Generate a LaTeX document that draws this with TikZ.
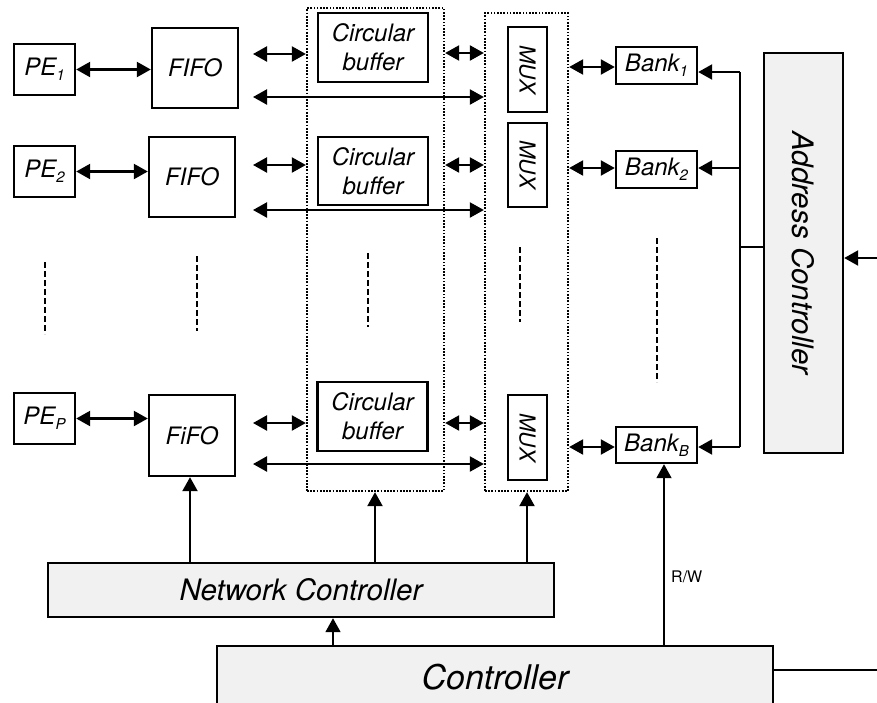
\documentclass[tikz,border=0pt]{standalone}
\usepackage{fontspec}
\setmainfont{TeX Gyre Heros}
\usetikzlibrary{arrows.meta,calc}
\definecolor{boxgray}{HTML}{F1F1F1}
\newcommand{\sbs}[1]{\raisebox{-5pt}{\fontsize{15}{15}\selectfont #1}}
\begin{document}
\begin{tikzpicture}[x=1pt,y=-1pt,
  box/.style={draw,line width=2.4pt,inner sep=0pt,align=center,font=\itshape\fontsize{24}{29}\selectfont},
  gbox/.style={box,fill=boxgray},
  lbl/.style={inner sep=0pt,font=\itshape\fontsize{23}{25}\selectfont},
  dotbox/.style={draw,line width=2.3pt,dash pattern=on 1.7pt off 1.5pt,inner sep=0pt},
  ell/.style={line width=2.2pt,dash pattern=on 6pt off 3pt},
  tip/.tip={Triangle[length=14pt,width=15pt]},
  arr/.style={line width=2.3pt,-tip},
  darr/.style={line width=2.3pt,tip-tip},
  bus/.style={line width=2pt}
]
\useasboundingbox (0,0) rectangle (877,702);

% PE boxes
\node[box,minimum width=61pt,minimum height=51pt] (pe1) at (44.5,69.5) {PE\sbs{1}};
\node[box,minimum width=61pt,minimum height=51pt] (pe2) at (44.5,171.5) {PE\sbs{2}};
\node[box,minimum width=61pt,minimum height=51pt] (pep) at (44.5,418.5) {PE\sbs{P}};

% FIFO boxes
\node[box,minimum width=86pt,minimum height=80pt] (fifo1) at (195,68) {FIFO};
\node[box,minimum width=86pt,minimum height=80pt] (fifo2) at (192,177) {FIFO};
\node[box,minimum width=86pt,minimum height=81pt] (fifo3) at (192,435.5) {FiFO};

% dotted groups
\node[dotbox,minimum width=137pt,minimum height=483pt] (dot1) at (375.5,249.5) {};
\node[dotbox,minimum width=83pt,minimum height=478pt] (dot2) at (526.5,252) {};

% circular buffers
\node[box,minimum width=110pt,minimum height=69pt] (cb1) at (373,47.5) {Circular\\buffer};
\node[box,minimum width=110pt,minimum height=68pt] (cb2) at (373,171) {Circular\\buffer};
\node[box,minimum width=110pt,minimum height=69pt] (cb3) at (372.5,416.5) {Circular\\buffer};

% MUX boxes
\node[box,minimum width=39pt,minimum height=85pt] (mux1) at (527.5,69.5) {};
\node[box,minimum width=39pt,minimum height=84pt] (mux2) at (527.5,165) {};
\node[box,minimum width=39pt,minimum height=85pt] (mux3) at (527.5,437.5) {};
\foreach \m in {mux1,mux2,mux3}
  \node[lbl,rotate=-90,font=\itshape\fontsize{22}{24}\selectfont] at (\m.center) {MUX};

% Banks
\node[box,minimum width=81pt,minimum height=37pt] (bank1) at (656.5,65.5) {Bank\sbs{1}};
\node[box,minimum width=81pt,minimum height=37pt] (bank2) at (656.5,169.5) {Bank\sbs{2}};
\node[box,minimum width=81pt,minimum height=36pt] (bankb) at (656.5,445) {Bank\sbs{B}};

% Address controller
\node[gbox,minimum width=79pt,minimum height=400pt] (addr) at (803.5,253) {};
\node[lbl,rotate=-90,font=\itshape\fontsize{29.5}{31}\selectfont] at (addr.center) {Address Controller};

% Network controller and controller
\node[gbox,minimum width=506pt,minimum height=54pt,font=\itshape\fontsize{29.5}{31}\selectfont] (nc) at (301,590) {Network Controller};
\node[gbox,minimum width=556pt,minimum height=62pt,font=\itshape\fontsize{34}{36}\selectfont] (ctrl) at (495,677) {Controller};

% ellipsis dashes
\draw[ell] (45,262) -- (45,334);
\draw[ell] (197,256) -- (197,331);
\draw[ell] (368,253) -- (368,327);
\draw[ell] (520,247) -- (520,322);
\draw[ell] (657,238) -- (657,382);

% PE <-> FIFO
\draw[darr] (pe1.east) -- (pe1.east -| fifo1.west);
\draw[darr] (pe2.east) -- (pe2.east -| fifo2.west);
\draw[darr] (pep.east) -- (pep.east -| fifo3.west);

% FIFO side arrows
\coordinate (s1) at (253,54);
\coordinate (s2) at (253,165);
\coordinate (s3) at (253,423);
\coordinate (l1) at (253,97);
\coordinate (l2) at (253,210);
\coordinate (l3) at (253,464);
\foreach \c in {s1,s2,s3} \draw[darr] (\c) -- (\c -| dot1.west);
\foreach \c in {l1,l2,l3} \draw[darr] (\c) -- (\c -| dot2.west);

% between dotted groups
\draw[darr] (dot1.east |- 0,53) -- (dot2.west |- 0,53);
\draw[darr] (dot1.east |- 0,165) -- (dot2.west |- 0,165);
\draw[darr] (dot1.east |- 0,423) -- (dot2.west |- 0,423);

% MUX group <-> banks
\draw[darr] (dot2.east |- 0,67) -- (bank1.west |- 0,67);
\draw[darr] (dot2.east |- 0,168) -- (bank2.west |- 0,168);
\draw[darr] (dot2.east |- 0,447) -- (bankb.west |- 0,447);

% address bus
\coordinate (bt) at (740,72);
\coordinate (bm) at (740,168);
\coordinate (bj) at (740,247);
\coordinate (bb) at (740,447);
\draw[bus] (bt) -- (bb);
\draw[arr] (bt) -- (bt -| bank1.east);
\draw[arr] (bm) -- (bm -| bank2.east);
\draw[arr] (bb) -- (bb -| bankb.east);
\draw[bus] (bj) -- (bj -| addr.west);
\coordinate (ain) at (877,258);
\draw[arr] (ain) -- (ain -| addr.east);

% network controller outputs
\draw[arr] (190,0 |- nc.north) -- (190,0 |- fifo3.south);
\draw[arr] (375,0 |- nc.north) -- (375,0 |- dot1.south);
\draw[arr] (527,0 |- nc.north) -- (527,0 |- dot2.south);

% controller
\draw[arr,line width=1.7pt] (333,0 |- ctrl.north) -- (333,0 |- nc.south);
\draw[arr,line width=1.8pt] (664,0 |- ctrl.north) -- (664,0 |- bankb.south);
\node[inner sep=0pt,font=\fontsize{16}{18}\selectfont,anchor=west] (rw) at (671,577) {R/W};
\coordinate (cout) at (877,670);
\draw[line width=2.3pt] (ctrl.east |- cout) -- (cout);
\end{tikzpicture}
\end{document}
